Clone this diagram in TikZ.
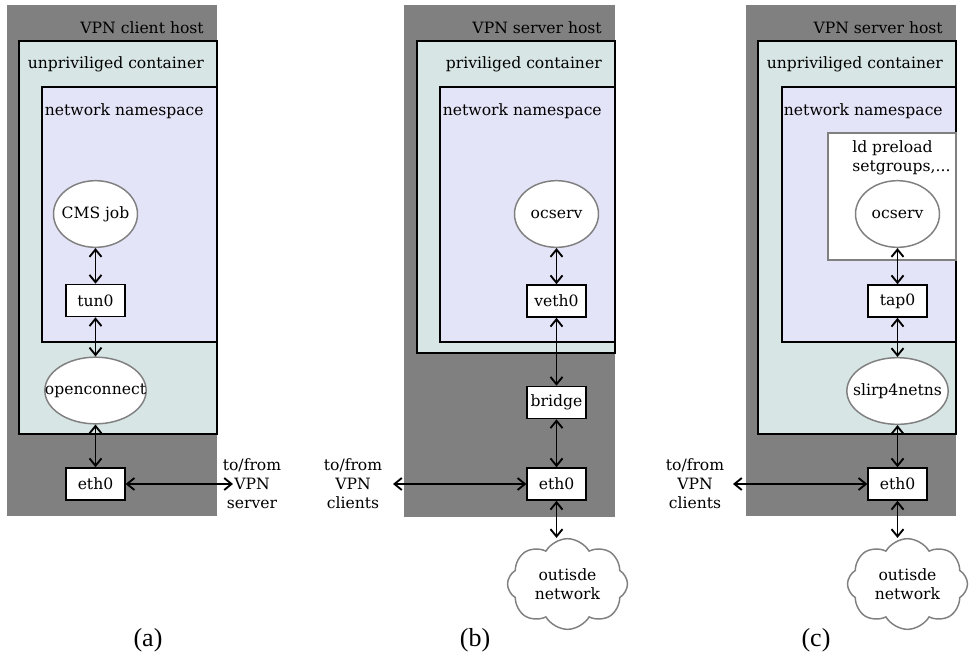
\documentclass[tikz,border=0pt]{standalone}
\usepackage{fontspec}
\setmainfont{DejaVu Serif}
\newfontfamily\capfont{Liberation Serif}
\usetikzlibrary{shapes.geometric,shapes.symbols,arrows.meta}

\definecolor{hostgray}{RGB}{128,128,128}
\definecolor{ctfill}{RGB}{215,229,228}
\definecolor{nsfill}{RGB}{228,228,248}
\definecolor{procgray}{RGB}{128,128,128}

% text of fixed-size ellipses: zero width so the ellipse keeps its size
\newcommand\ptext[1]{\makebox[0pt]{#1}}

\begin{document}
\begin{tikzpicture}[
  x=0.75pt, y=-0.75pt,
  font=\fontsize{11.7}{14.25}\selectfont,
  host/.style={fill=hostgray},
  ctbox/.style={fill=ctfill, draw=black, line width=1.2pt},
  nsbox/.style={fill=nsfill, draw=black, line width=1.2pt},
  libbox/.style={fill=white, draw=procgray, line width=1.1pt},
  lbl/.style={anchor=base east, inner sep=0pt},
  proc/.style={ellipse, draw=procgray, fill=white, line width=1.1pt,
    inner sep=0pt, minimum width=63pt, minimum height=50pt},
  wideproc/.style={proc, minimum width=76pt},
  iface/.style={rectangle, draw=black, fill=white, line width=1.2pt,
    minimum width=44pt, minimum height=24pt, inner sep=1pt},
  link/.style={{Straight Barb[length=5.5pt,width=9pt]}-{Straight Barb[length=5.5pt,width=9pt]},
    line width=1.4pt},
  ext/.style={align=center, inner sep=0pt},
  net/.style={cloud, cloud puffs=8, cloud puff arc=120, aspect=1.3,
    draw=procgray, fill=white, line width=1.1pt,
    minimum width=90pt, minimum height=68pt, align=center, inner sep=0pt},
  caption/.style={font=\capfont\fontsize{19.5}{22}\selectfont, anchor=base, inner sep=0pt}
]
\useasboundingbox (0,0) rectangle (970,658);

% ---------------- (a) VPN client host ----------------
\fill[host] (7,5) rectangle (217,516);
\draw[ctbox] (19,41) rectangle (217,434);
\draw[nsbox] (42,87) rectangle (217,342);
\node[lbl] (ahost) at (204,33) {VPN client host};
\node[lbl] (act) at (204,68) {unpriviliged container};
\node[lbl] (ans) at (204,115) {network namespace};

\node[proc] (cms) at (95.5,214) {\ptext{CMS job}};
\node[iface] (tun) at (95.5,300.5) {tun0};
\node[wideproc] (oc) at (95.5,390.5) {\ptext{openconnect}};
\node[iface] (aeth) at (95.5,484) {eth0};
\coordinate (aout) at (233,484);
\node[ext] (aext) at (252,484) {to/from\\VPN\\server};

\draw[link] (cms) -- (tun);
\draw[link] (tun) -- (oc);
\draw[link] (oc) -- (aeth);
\draw[link] (aeth) -- (aout);

% ---------------- (b) VPN server host, priviliged ----------------
\fill[host] (404,5) rectangle (615,517);
\draw[ctbox] (417,41) rectangle (615,353);
\draw[nsbox] (440,87) rectangle (615,342);
\node[lbl] (bhost) at (602,33) {VPN server host};
\node[lbl] (bct) at (602,68) {priviliged container};
\node[lbl] (bns) at (602,115) {network namespace};

\node[proc] (bocs) at (556.5,214) {\ptext{ocserv}};
\node[iface] (veth) at (556.5,301) {veth0};
\node[iface] (bridge) at (556.5,402.5) {bridge};
\node[iface] (beth) at (556.5,484) {eth0};
\node[net] (bnet) at (567.5,584) {outisde\\network};
\coordinate (bin) at (393,484);
\node[ext] (bext) at (353,484) {to/from\\VPN\\clients};

\draw[link] (bocs) -- (veth);
\draw[link] (veth) -- (bridge);
\draw[link] (bridge) -- (beth);
\draw[link] (beth) -- (beth |- bnet.north);
\draw[link] (bin) -- (beth);

% ---------------- (c) VPN server host, unpriviliged ----------------
\fill[host] (746,5) rectangle (956,516);
\draw[ctbox] (758,41) rectangle (956,434);
\draw[nsbox] (782,87) rectangle (956,342);
\draw[libbox] (828,133) rectangle (956,260);
\node[lbl] (chost) at (943,33) {VPN server host};
\node[lbl] (cct) at (943,68) {unpriviliged container};
\node[lbl] (cns) at (943,115) {network namespace};
\node[align=left, anchor=north west, inner sep=0pt] (preload) at (852,140)
  {ld preload\\setgroups,...};

\node[proc] (cocs) at (897.5,214) {\ptext{ocserv}};
\node[iface] (tap) at (897.5,301) {tap0};
\node[wideproc] (slirp) at (897.5,391) {\ptext{slirp4netns}};
\node[iface] (ceth) at (897.5,484) {eth0};
\node[net] (cnet) at (907.5,584) {outisde\\network};
\coordinate (cin) at (733,484);
\node[ext] (cext) at (695,484) {to/from\\VPN\\clients};

\draw[link] (cocs) -- (tap);
\draw[link] (tap) -- (slirp);
\draw[link] (slirp) -- (ceth);
\draw[link] (ceth) -- (ceth |- cnet.north);
\draw[link] (cin) -- (ceth);

% ---------------- captions ----------------
\node[caption] (capa) at (148,646) {(a)};
\node[caption] (capb) at (475,646) {(b)};
\node[caption] (capc) at (816,646) {(c)};
\end{tikzpicture}
\end{document}
